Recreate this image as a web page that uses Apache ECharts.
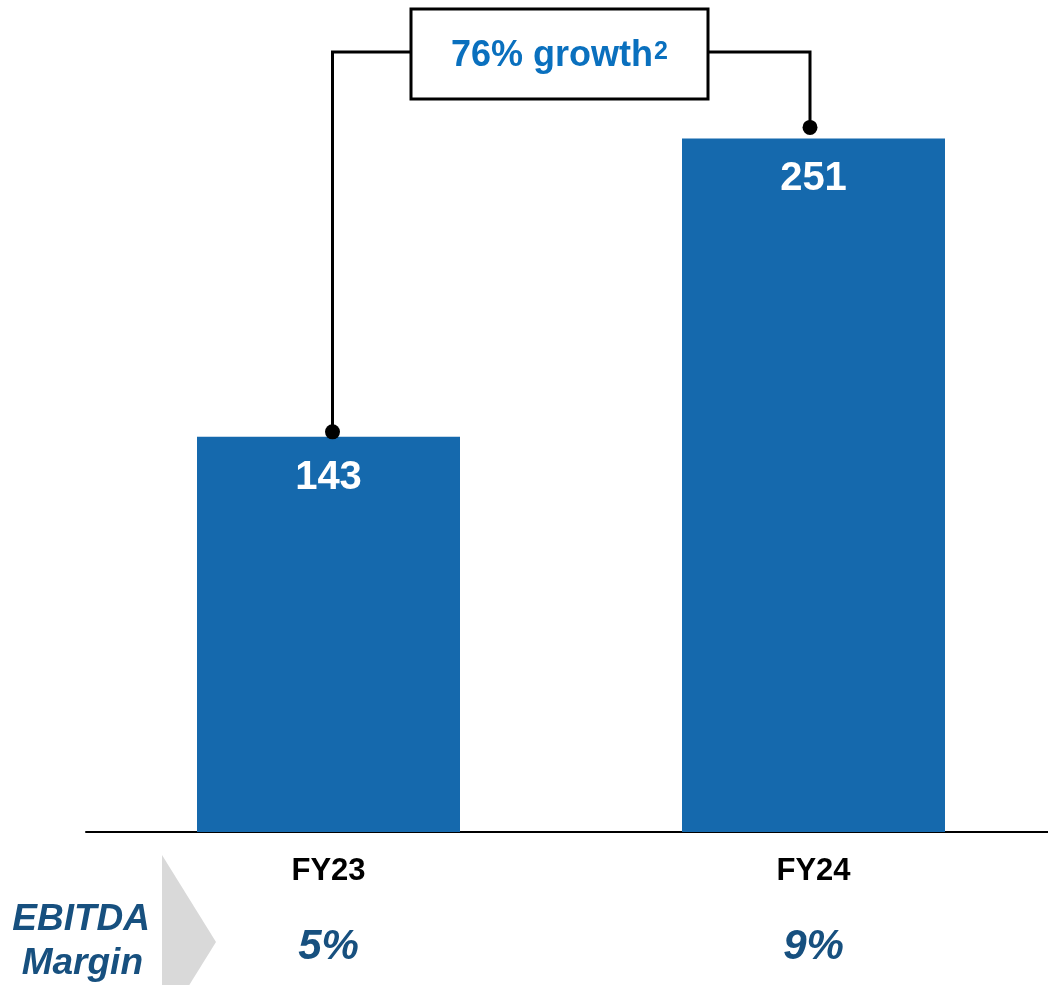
<!DOCTYPE html>
<html><head><meta charset="utf-8">
<script src="https://cdn.jsdelivr.net/npm/echarts@6/dist/echarts.min.js"></script>
<style>html,body{margin:0;padding:0;background:#fff;overflow:hidden}#c{width:1056px;height:985px}</style>
</head><body><div id="c"></div>
<script>
const categories = ['FY23', 'FY24'];
const ebitda = [143, 251];
const margins = ['5%', '9%'];
const growthLabel = '76% growth';
const marginTitle = ['EBITDA', 'Margin'];

const chart = echarts.init(document.getElementById('c'), null, {renderer: 'canvas'});
const FONT = 'Liberation Sans, Arial, sans-serif';
const option = {
  animation: false,
  grid: {left: 86, right: 0, top: 3, bottom: 153},
  xAxis: {
    type: 'category', data: categories,
    axisLine: {lineStyle: {color: '#000', width: 2}},
    axisTick: {show: false},
    axisLabel: {
      margin: 21,
      formatter: (v, i) => '{a|' + v + '}\n{b|' + margins[i] + '}',
      rich: {
        a: {fontFamily: FONT, fontWeight: 'bold', fontSize: 31, color: '#000', lineHeight: 36},
        b: {fontFamily: FONT, fontWeight: 'bold', fontStyle: 'italic', fontSize: 42, color: '#17507F', lineHeight: 116}
      }
    }
  },
  yAxis: {type: 'value', min: 0, max: 300, show: false, splitLine: {show: false}},
  series: [{
    type: 'bar', data: ebitda, barWidth: 263,
    itemStyle: {color: '#1569AD'},
    label: {show: true, position: 'insideTop', distance: 21, color: '#fff',
      fontFamily: FONT, fontWeight: 'bold', fontSize: 40}
  }]
};
chart.setOption(option);

function drawAnnotations() {
  const p0 = chart.convertToPixel({seriesIndex: 0}, [0, ebitda[0]]);
  const p1 = chart.convertToPixel({seriesIndex: 0}, [1, ebitda[1]]);
  const x0 = p0[0] + 4, y0 = p0[1] - 5;
  const x1 = p1[0] - 3.5, y1 = p1[1] - 11;
  const lineY = 52;
  const boxL = 411, boxR = 708, boxT = 9, boxB = 99;
  const ls = {stroke: '#000', lineWidth: 3, fill: null};
  chart.setOption({graphic: [
    {type: 'polyline', shape: {points: [[x0, y0], [x0, lineY], [boxL, lineY]]}, style: ls, z: 10},
    {type: 'polyline', shape: {points: [[boxR, lineY], [x1, lineY], [x1, y1]]}, style: ls, z: 10},
    {type: 'circle', shape: {cx: x0, cy: y0, r: 7.5}, style: {fill: '#000'}, z: 11},
    {type: 'circle', shape: {cx: x1, cy: y1, r: 7.5}, style: {fill: '#000'}, z: 11},
    {type: 'rect', shape: {x: boxL, y: boxT, width: boxR - boxL, height: boxB - boxT},
      style: {fill: '#fff', stroke: '#000', lineWidth: 3}, z: 10},
    {type: 'text', x: (boxL + boxR) / 2, y: 56, z: 12,
      style: {text: '{m|' + growthLabel + '}{s|2}', align: 'center', verticalAlign: 'middle',
        rich: {
          m: {fontFamily: FONT, fontWeight: 'bold', fontSize: 36, fill: '#0A70BE', color: '#0A70BE'},
          s: {fontFamily: FONT, fontWeight: 'bold', fontSize: 25, fill: '#0A70BE', color: '#0A70BE', padding: [0, 0, 8, 1]}
        }}},
    {type: 'polygon', shape: {points: [[162, 855], [216, 942], [162, 1029]]}, style: {fill: '#D9D9D9'}, z: 1},
    {type: 'text', x: 150, y: 920, z: 12,
      style: {text: marginTitle[0], align: 'right', verticalAlign: 'middle',
        font: 'italic bold 37px ' + FONT, fill: '#17507F'}},
    {type: 'text', x: 143, y: 964, z: 12,
      style: {text: marginTitle[1], align: 'right', verticalAlign: 'middle',
        font: 'italic bold 37px ' + FONT, fill: '#17507F'}}
  ]});
}
drawAnnotations();
</script></body></html>
